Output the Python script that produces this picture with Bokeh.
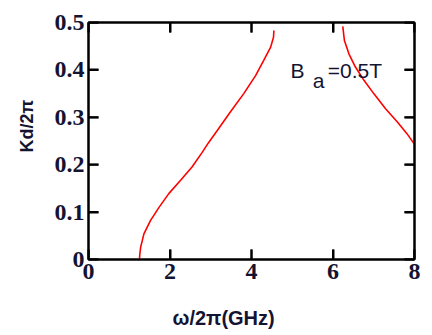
import math
from bokeh.plotting import figure
from bokeh.models import LinearAxis, FixedTicker, Label, Range1d, Title
from bokeh.embed import file_html
from bokeh.resources import INLINE

# data
w1 = [1.25, 1.26, 1.28, 1.36, 1.52, 1.73, 1.97, 2.26, 2.54, 2.79, 2.95, 3.16, 3.48, 3.81, 4.10, 4.30, 4.47, 4.54, 4.55]
k1 = [0.0, 0.012, 0.026, 0.054, 0.082, 0.110, 0.139, 0.167, 0.195, 0.226, 0.247, 0.272, 0.311, 0.350, 0.388, 0.420, 0.448, 0.469, 0.483]
w2 = [6.24, 6.28, 6.39, 6.55, 6.76, 7.00, 7.29, 7.58, 7.82, 8.0]
k2 = [0.492, 0.462, 0.434, 0.406, 0.378, 0.350, 0.318, 0.290, 0.265, 0.243]
x_ticks = [0, 2, 4, 6, 8]
y_ticks = [0, 0.1, 0.2, 0.3, 0.4, 0.5]
y_tick_labels = {0: "0", 0.1: "0.1", 0.2: "0.2", 0.3: "0.3", 0.4: "0.4", 0.5: "0.5"}
x_min, x_max = 0, 8
y_min, y_max = 0, 0.5

TXT = "#141432"

p = figure(width=432, height=335, output_backend="svg", toolbar_location=None,
           x_range=Range1d(x_min, x_max), y_range=Range1d(y_min, y_max),
           min_border_left=88, min_border_right=18, min_border_top=22, min_border_bottom=76,
           x_axis_location=None, y_axis_location=None)
p.frame_width = 326
p.frame_height = 237
p.xgrid.visible = False
p.ygrid.visible = False
p.outline_line_color = "black"
p.outline_line_width = 2
p.background_fill_color = "white"
p.border_fill_color = "white"

def style(ax, ticks, show_labels):
    ax.axis_line_color = "black"
    ax.axis_line_width = 2
    ax.axis_label_standoff = 0
    ax.major_tick_line_color = "black"
    ax.major_tick_line_width = 2
    ax.major_tick_in = 10
    ax.major_tick_out = 0
    ax.minor_tick_line_color = None
    if show_labels:
        ax.major_label_text_font = "Liberation Serif"
        ax.major_label_text_font_style = "bold"
        ax.major_label_text_font_size = "24px"
        ax.major_label_text_color = TXT
        ax.major_label_standoff = 4
    else:
        ax.major_label_overrides = {t: "" for t in ticks}
        ax.major_label_standoff = 0

xb = LinearAxis(ticker=FixedTicker(ticks=x_ticks))
style(xb, x_ticks, True)
xt = LinearAxis(ticker=FixedTicker(ticks=x_ticks))
style(xt, x_ticks, False)
yl = LinearAxis(ticker=FixedTicker(ticks=y_ticks), major_label_overrides=y_tick_labels)
style(yl, y_ticks, True)
yr = LinearAxis(ticker=FixedTicker(ticks=y_ticks))
style(yr, y_ticks, False)
p.add_layout(xb, "below")
p.add_layout(xt, "above")
p.add_layout(yl, "left")
p.add_layout(yr, "right")

# inward tick marks (dash markers centred on the frame edges; outer half clipped by the frame)
p.scatter(x_ticks, [y_min] * len(x_ticks), marker="dash", size=20, angle=math.pi / 2,
          line_color="black", line_width=2)
p.scatter(x_ticks, [y_max] * len(x_ticks), marker="dash", size=20, angle=math.pi / 2,
          line_color="black", line_width=2)
p.scatter([x_min] * len(y_ticks), y_ticks, marker="dash", size=20,
          line_color="black", line_width=2)
p.scatter([x_max] * len(y_ticks), y_ticks, marker="dash", size=20,
          line_color="black", line_width=2)

lab_font = "Liberation Sans"
p.add_layout(Title(text="Kd/2π", align="left", offset=107, standoff=26, vertical_align="top",
                   text_font=lab_font, text_font_style="bold", text_font_size="18px",
                   text_color=TXT), "left")
p.add_layout(Title(text="ω/2π(GHz)", align="left", offset=84, standoff=46,
                   text_font=lab_font, text_font_style="bold", text_font_size="20px",
                   text_color=TXT), "below")

p.line(w1, k1, line_color="red", line_width=1.6)
p.line(w2, k2, line_color="red", line_width=1.6)

p.add_layout(Label(x=4.96, y=0.399, text="B", text_font=lab_font, text_font_size="21px",
                   text_color=TXT, text_align="left", text_baseline="middle"))
p.add_layout(Label(x=5.50, y=0.377, text="a", text_font=lab_font, text_font_size="21px",
                   text_color=TXT, text_align="left", text_baseline="middle"))
p.add_layout(Label(x=5.87, y=0.399, text="=0.5T", text_font=lab_font, text_font_size="21px",
                   text_color=TXT, text_align="left", text_baseline="middle"))

open("out.html", "w").write(file_html(p, INLINE))
